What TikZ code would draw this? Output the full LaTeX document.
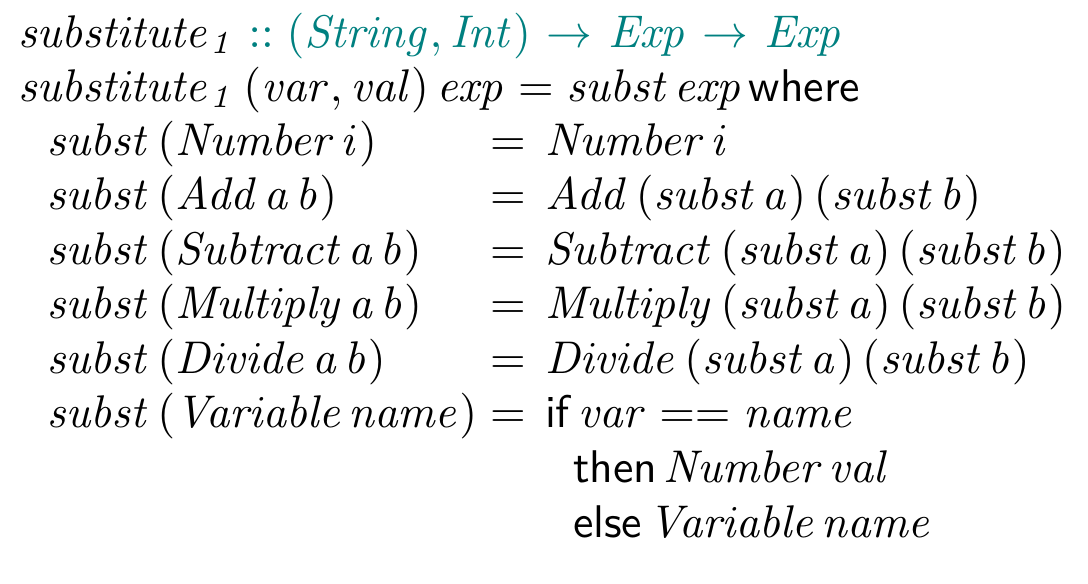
\documentclass[tikz,border=0pt]{standalone}
\usepackage{xcolor}
\definecolor{sigteal}{RGB}{0,128,128}
\newcommand{\V}[1]{\mathit{#1}}
\newcommand{\kw}[1]{\textsf{#1}}
\newcommand{\gp}{\mskip2mu}
\newcommand{\pg}{\mskip3mu}
\newcommand{\ks}{\hspace{1.3pt}}
\newcommand{\arr}{\mskip1.2mu\to\mskip1.2mu}
\begin{document}
\begin{tikzpicture}[x=0.2183pt,y=-0.2183pt,
  code/.style={anchor=base west,inner sep=0pt,outer sep=0pt}]
\useasboundingbox (0,0) rectangle (1088,583);
\node[code] (l1) at (18,47) {$\V{substitute}_{\V{1}}\mathrel{\color{sigteal}::}{\color{sigteal}(\V{String},\V{Int})\arr\V{Exp}\arr\V{Exp}}$};
\node[code] (l2) at (18,101) {$\V{substitute}_{\V{1}}\pg(\V{var},\V{val})\pg\V{exp}\mathrel{=}\V{subst}\gp\V{exp}$\ks\kw{where}};
\node[code] (lhs3) at (47,155) {$\V{subst}\pg(\V{Number}\gp\V{i})$};
\node[code] (lhs4) at (47,209) {$\V{subst}\pg(\V{Add}\gp\V{a}\gp\V{b})$};
\node[code] (lhs5) at (47,264) {$\V{subst}\pg(\V{Subtract}\gp\V{a}\gp\V{b})$};
\node[code] (lhs6) at (47,318) {$\V{subst}\pg(\V{Multiply}\gp\V{a}\gp\V{b})$};
\node[code] (lhs7) at (47,373) {$\V{subst}\pg(\V{Divide}\gp\V{a}\gp\V{b})$};
\node[code] (lhs8) at (47,427) {$\V{subst}\pg(\V{Variable}\gp\V{name})$};
\foreach \i/\y in {3/155,4/209,5/264,6/318,7/373,8/427}
  \node[code] (eq\i) at (490,\y) {$=$};
\node[code] (rhs3) at (545,155) {$\V{Number}\gp\V{i}$};
\node[code] (rhs4) at (545,209) {$\V{Add}\pg(\V{subst}\gp\V{a})\pg(\V{subst}\gp\V{b})$};
\node[code] (rhs5) at (545,264) {$\V{Subtract}\pg(\V{subst}\gp\V{a})\pg(\V{subst}\gp\V{b})$};
\node[code] (rhs6) at (545,318) {$\V{Multiply}\pg(\V{subst}\gp\V{a})\pg(\V{subst}\gp\V{b})$};
\node[code] (rhs7) at (545,373) {$\V{Divide}\pg(\V{subst}\gp\V{a})\pg(\V{subst}\gp\V{b})$};
\node[code] (rhs8) at (545,427) {\kw{if}\ks$\V{var}==\V{name}$};
\node[code] (l9) at (573,482) {\kw{then}\ks$\V{Number}\gp\V{val}$};
\node[code] (l10) at (573,537) {\kw{else}\ks$\V{Variable}\gp\V{name}$};
\end{tikzpicture}
\end{document}
